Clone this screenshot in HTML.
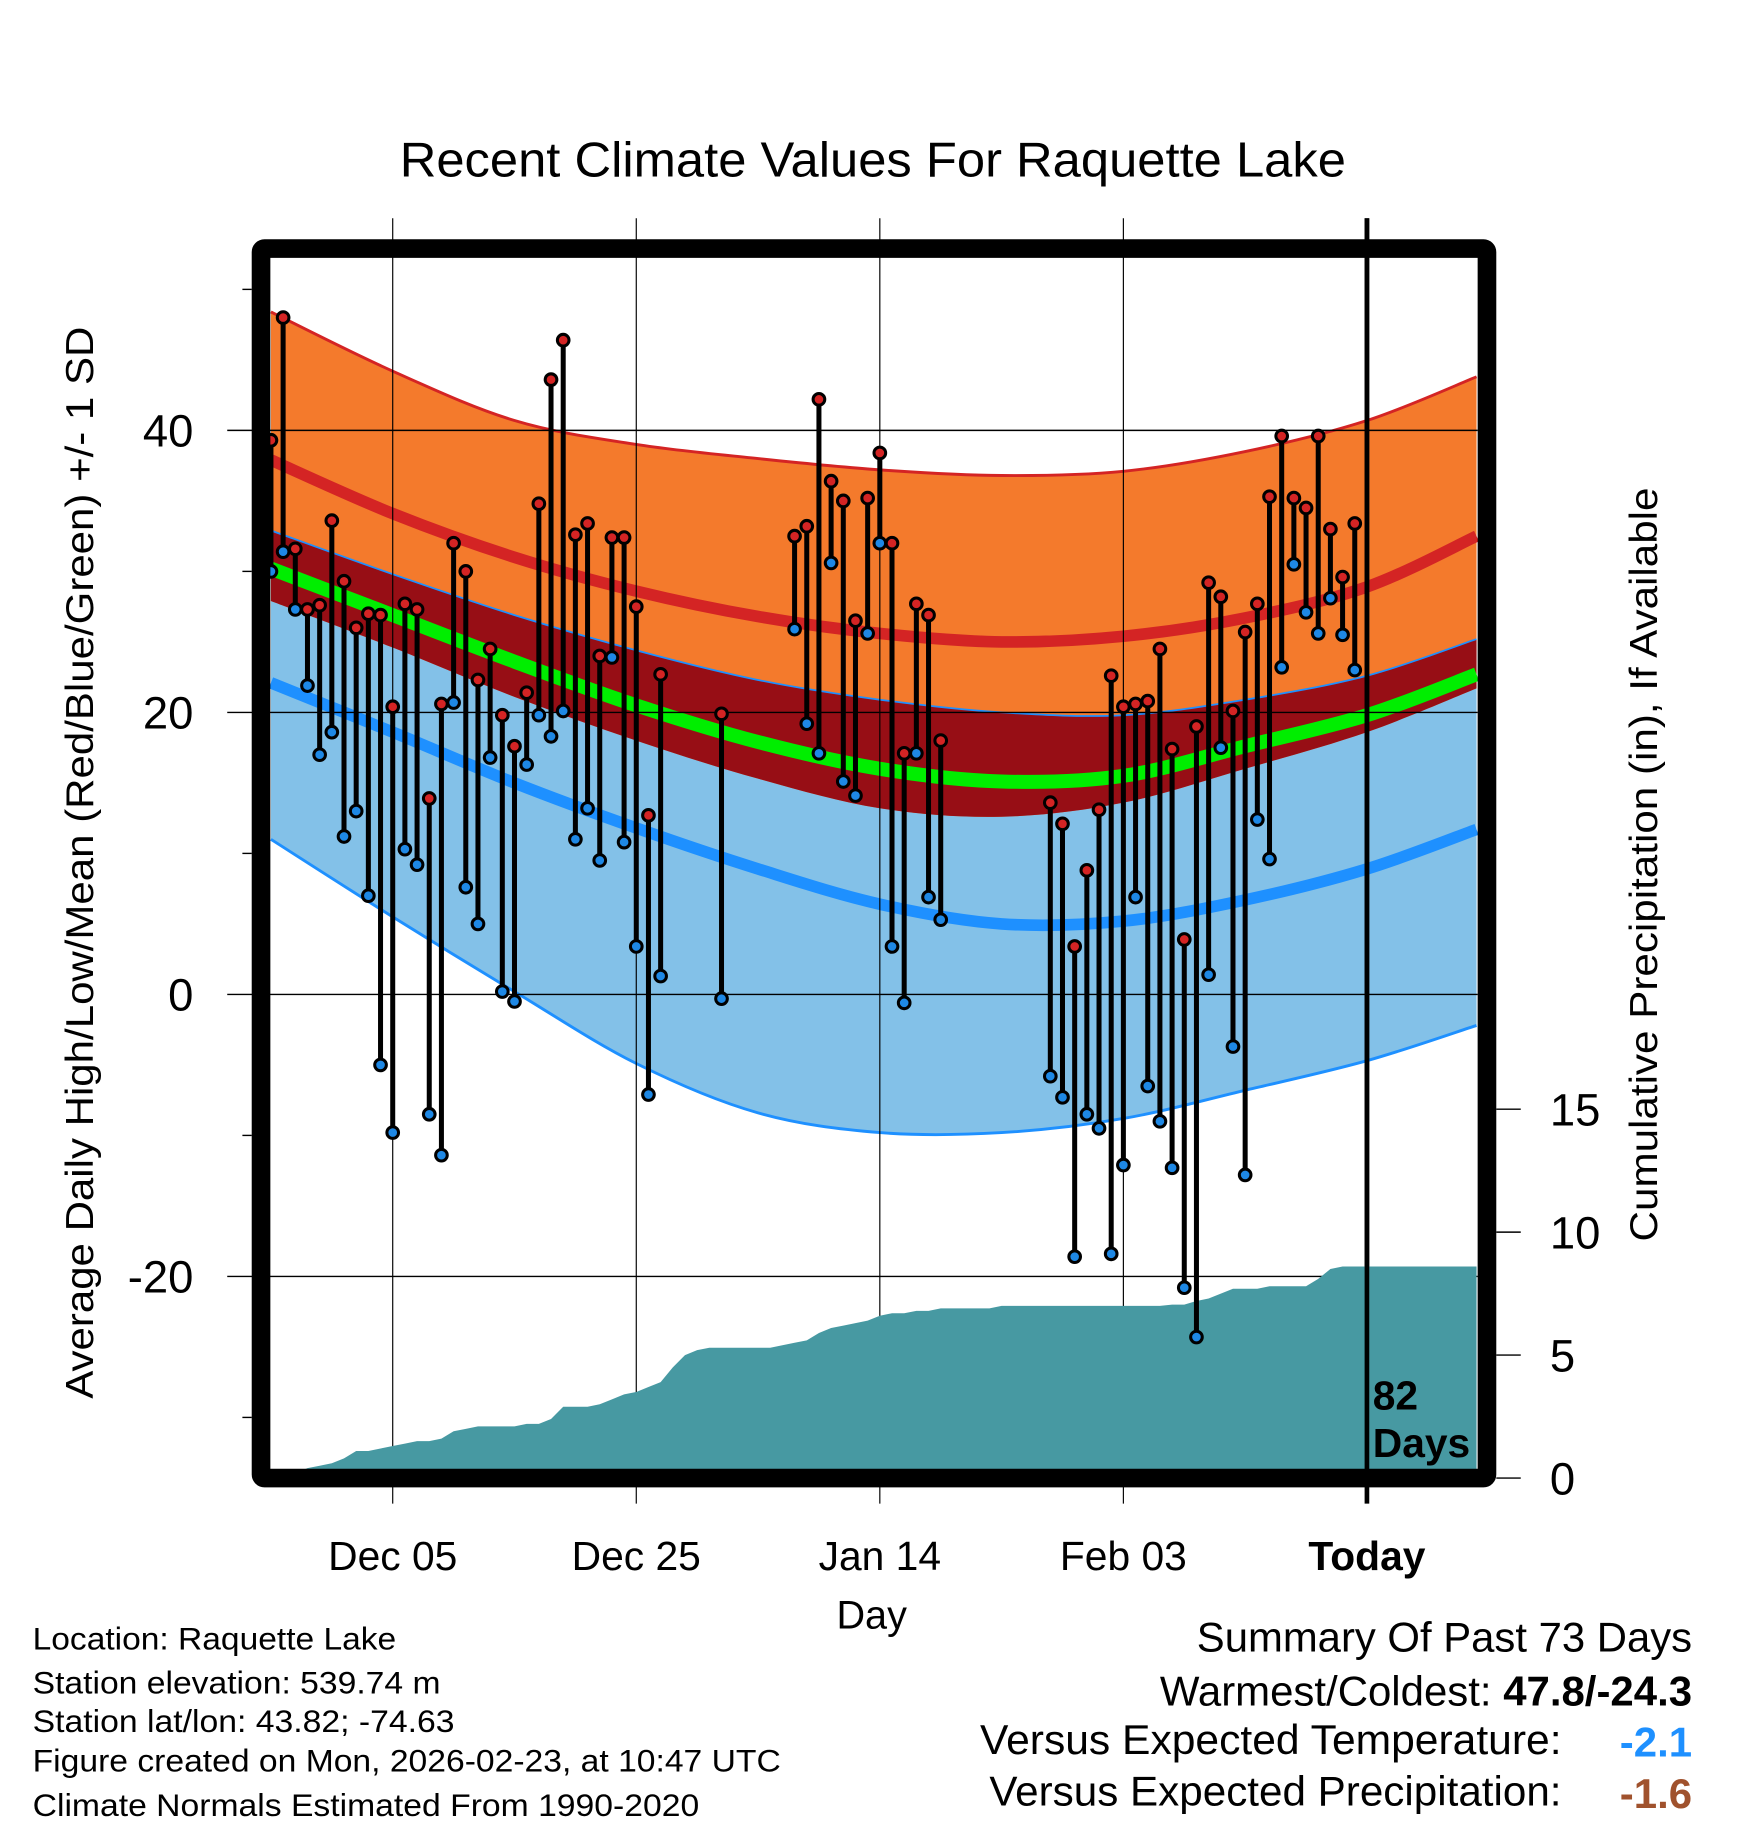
<!DOCTYPE html>
<html><head><meta charset="utf-8"><style>
html,body{margin:0;padding:0;background:#fff}
svg{display:block;font-family:"Liberation Sans",Arial,sans-serif}
</style></head><body>
<svg id="chart" width="1748" height="1828" viewBox="0 0 1500 1568" xmlns="http://www.w3.org/2000/svg">
<rect x="0" y="0" width="1500" height="1568" fill="#fff"/>
<text x="343" y="151" font-size="42" textLength="812" lengthAdjust="spacingAndGlyphs">Recent Climate Values For Raquette Lake</text>
<g id="bands"></g>
<g id="grid"></g>
<g id="precip"></g>
<g id="marks"></g>
<g id="frame"></g>
<g id="axes"></g>
<text transform="translate(80,1200) rotate(-90)" font-size="33" textLength="920" lengthAdjust="spacingAndGlyphs">Average Daily High/Low/Mean (Red/Blue/Green) +/- 1 SD</text>
<text transform="translate(1422,1065) rotate(-90)" font-size="33" textLength="647" lengthAdjust="spacingAndGlyphs">Cumulative Precipitation (in), If Available</text>
<text x="748" y="1397" font-size="34" text-anchor="middle">Day</text>
<g font-size="27">
<text x="28" y="1415" textLength="312" lengthAdjust="spacingAndGlyphs">Location: Raquette Lake</text>
<text x="28" y="1453" textLength="350" lengthAdjust="spacingAndGlyphs">Station elevation: 539.74 m</text>
<text x="28" y="1486" textLength="362" lengthAdjust="spacingAndGlyphs">Station lat/lon: 43.82; -74.63</text>
<text x="28" y="1520" textLength="642" lengthAdjust="spacingAndGlyphs">Figure created on Mon, 2026-02-23, at 10:47 UTC</text>
<text x="28" y="1558" textLength="572" lengthAdjust="spacingAndGlyphs">Climate Normals Estimated From 1990-2020</text>
</g>
<g font-size="36">
<text x="1027" y="1417" textLength="425" lengthAdjust="spacingAndGlyphs">Summary Of Past 73 Days</text>
<text x="1452" y="1463" text-anchor="end">Warmest/Coldest: <tspan font-weight="bold">47.8/-24.3</tspan></text>
<text x="841" y="1505" textLength="499" lengthAdjust="spacingAndGlyphs">Versus Expected Temperature:</text>
<text x="1452" y="1507" text-anchor="end" font-weight="bold" fill="#1e90ff">-2.1</text>
<text x="849" y="1549" textLength="491" lengthAdjust="spacingAndGlyphs">Versus Expected Precipitation:</text>
<text x="1452" y="1551" text-anchor="end" font-weight="bold" fill="#a0522d">-1.6</text>
</g>
</svg>
<script>
// ---- data ----
const normDays = [0,10,20,30,40,50,60,70,80,90,99];
const highUpper = [48.4,44.2,40.7,39.0,38.0,37.2,36.8,37.1,38.5,40.7,43.8];
const highMean  = [37.9,34.1,31.0,28.6,26.8,25.6,25.0,25.4,26.7,28.9,32.5];
const highLower = [27.9,24.6,21.1,18.0,15.3,13.2,12.6,13.6,16.0,18.6,21.7];
const meanTemp  = [30.2,26.9,23.6,20.5,17.9,16.0,15.1,15.5,17.6,19.8,22.7];
const lowUpper  = [32.9,29.8,26.9,24.4,22.3,20.9,20.0,19.8,20.9,22.6,25.2];
const lowMean   = [22.1,18.6,15.0,11.8,8.9,6.4,5.0,5.2,6.7,8.9,11.7];
const lowLower  = [11.0,5.5,0.2,-4.9,-8.4,-9.8,-9.8,-8.8,-6.8,-4.7,-2.2];
const obsDays = [0,1,2,3,4,5,6,7,8,9,10,11,12,13,14,15,16,17,18,19,20,21,22,23,24,25,26,27,28,29,30,31,32,37,43,44,45,46,47,48,49,50,51,52,53,54,55,64,65,66,67,68,69,70,71,72,73,74,75,76,77,78,79,80,81,82,83,84,85,86,87,88,89];
const highs = [39.3,48,31.6,27.3,27.6,33.6,29.3,26,27,26.9,20.4,27.7,27.3,13.9,20.6,32,30,22.3,24.5,19.8,17.6,21.4,34.8,43.6,46.4,32.6,33.4,24,32.4,32.4,27.5,12.7,22.7,19.9,32.5,33.2,42.2,36.4,35,26.5,35.2,38.4,32,17.1,27.7,26.9,18,13.6,12.1,3.4,8.8,13.1,22.6,20.4,20.6,20.8,24.5,17.4,3.9,19,29.2,28.2,20.1,25.7,27.7,35.3,39.6,35.2,34.5,39.6,33,29.6,33.4];
const lows = [30,31.4,27.3,21.9,17,18.6,11.2,13,7,-5,-9.8,10.3,9.2,-8.5,-11.4,20.7,7.6,5,16.8,0.2,-0.5,16.3,19.8,18.3,20.1,11,13.2,9.5,23.9,10.8,3.4,-7.1,1.3,-0.3,25.9,19.2,17.1,30.6,15.1,14.1,25.6,32,3.4,-0.6,17.1,6.9,5.3,-5.8,-7.3,-18.6,-8.5,-9.5,-18.4,-12.1,6.9,-6.5,-9,-12.3,-20.8,-24.3,1.4,17.5,-3.7,-12.8,12.4,9.6,23.2,30.5,27.1,25.6,28.1,25.5,23];
const precipCum = [0,0.1,0.2,0.4,0.5,0.6,0.8,1.1,1.1,1.2,1.3,1.4,1.5,1.5,1.6,1.9,2.0,2.1,2.1,2.1,2.1,2.2,2.2,2.4,2.9,2.9,2.9,3.0,3.2,3.4,3.5,3.7,3.9,4.5,5.0,5.2,5.3,5.3,5.3,5.3,5.3,5.3,5.4,5.5,5.6,5.9,6.1,6.2,6.3,6.4,6.6,6.7,6.7,6.8,6.8,6.9,6.9,6.9,6.9,6.9,7.0,7.0,7.0,7.0,7.0,7.0,7.0,7.0,7.0,7.0,7.0,7.0,7.0,7.0,7.05,7.05,7.2,7.3,7.5,7.7,7.7,7.7,7.8,7.8,7.8,7.8,8.1,8.5,8.6,8.6,8.6,8.6,8.6,8.6,8.6,8.6,8.6,8.6,8.6,8.6];
const xTickDays = [10,30,50,70,90];
const xTickLabels = ["Dec 05","Dec 25","Jan 14","Feb 03","Today"];
const yTicks = [40,20,0,-20];
const yMinor = [50,30,10,-10,-30];
const pTicks = [0,5,10,15];

// ---- scales ----
const X0=232.5, DX=10.45;
const xs = d => X0 + DX*d;
const ys = v => 853 - 12.1*v;
const yp = v => 1268 - 21.1*v;
const NS='http://www.w3.org/2000/svg';
function mk(tag, attrs, parent){ const e=document.createElementNS(NS,tag); for(const k in attrs) e.setAttribute(k,attrs[k]); parent.appendChild(e); return e; }

function spline(pts, start){
  let s='';
  for(let i=0;i<pts.length-1;i++){
    const p0=pts[Math.max(0,i-1)],p1=pts[i],p2=pts[i+1],p3=pts[Math.min(pts.length-1,i+2)];
    if(i===0) s+=start+p1[0]+','+p1[1];
    const c1=[p1[0]+(p2[0]-p0[0])/6,p1[1]+(p2[1]-p0[1])/6];
    const c2=[p2[0]-(p3[0]-p1[0])/6,p2[1]-(p3[1]-p1[1])/6];
    s+=` C${c1[0]},${c1[1]} ${c2[0]},${c2[1]} ${p2[0]},${p2[1]}`;
  }
  return s;
}
function curvePts(vals){ return spline(normDays.map((d,i)=>[xs(d),ys(vals[i])]),'M'); }
function revCurve(vals){
  const pts=normDays.map((d,i)=>[xs(d),ys(vals[i])]).reverse();
  return spline(pts,' L')+' Z';
}
const bands=document.getElementById('bands');
let e;
e=mk('path',{d:curvePts(lowUpper)+revCurve(lowLower),fill:'#83c1e8'},bands);
 
e=mk('path',{d:curvePts(highUpper)+revCurve(highLower),fill:'#f47a2c'},bands);
 
e=mk('path',{d:curvePts(lowUpper)+revCurve(highLower),fill:'#970e15'},bands);
 
e=mk('path',{d:curvePts(highUpper),fill:'none',stroke:'#d42424','stroke-width':2.5},bands);
 
e=mk('path',{d:curvePts(lowUpper),fill:'none',stroke:'#1e90ff','stroke-width':1.5},bands);
 
e=mk('path',{d:curvePts(lowLower),fill:'none',stroke:'#1e90ff','stroke-width':2.5},bands);
 
e=mk('path',{d:curvePts(highMean),fill:'none',stroke:'#d42424','stroke-width':10},bands);
 
e=mk('path',{d:curvePts(lowMean),fill:'none',stroke:'#1e90ff','stroke-width':10},bands);
 
e=mk('path',{d:curvePts(meanTemp),fill:'none',stroke:'#00ee00','stroke-width':12},bands);
 

// grid
const grid=document.getElementById('grid');
xTickDays.forEach(d=>{
  const g=mk('line',{x1:xs(d),x2:xs(d),y1:187,y2:1290,stroke:'#000','stroke-width':d===90?4:1},grid);
   
});
yTicks.forEach(v=>{
  const g=mk('line',{x1:195,x2:1268,y1:ys(v),y2:ys(v),stroke:'#000','stroke-width':1.2},grid);
   
});

// precip
let pd='M'+xs(0)+','+yp(0);
precipCum.forEach((v,i)=>{ pd+=' L'+xs(i)+','+yp(v); });
pd+=' L'+xs(99)+','+yp(0)+' Z';
e=mk('path',{d:pd,fill:'#4799a2'},document.getElementById('precip'));
 
e=mk('line',{x1:xs(90),x2:xs(90),y1:187,y2:1268,stroke:'#000','stroke-width':4},document.getElementById('precip'));
 

// marks
const marks=document.getElementById('marks');
obsDays.forEach((d,i)=>{
  const x=xs(d);
  const s=mk('line',{x1:x,x2:x,y1:ys(highs[i]),y2:ys(lows[i]),stroke:'#000','stroke-width':4.3},marks);
   
});
obsDays.forEach((d,i)=>{
  const x=xs(d);
  const lo=mk('circle',{cx:x,cy:ys(lows[i]),r:5,fill:'#1e88e5',stroke:'#000','stroke-width':2.6},marks);
   
  const hi=mk('circle',{cx:x,cy:ys(highs[i]),r:5,fill:'#d42424',stroke:'#000','stroke-width':2.6},marks);
   
});

// frame & axes
const frame=document.getElementById('frame');
e=mk('rect',{x:224,y:213,width:1052,height:1055,fill:'none',stroke:'#000','stroke-width':16,rx:3},frame);
 
e=mk('text',{x:1178,y:1209,'font-size':35,'font-weight':'bold'},frame); e.textContent='82';
 
e=mk('text',{x:1178,y:1250,'font-size':35,'font-weight':'bold'},frame); e.textContent='Days';
 

const axes=document.getElementById('axes');
yTicks.forEach(v=>{
  const t=mk('text',{x:166,y:ys(v)+14,'font-size':39,'text-anchor':'end'},axes); t.textContent=String(v);
   
});
yMinor.forEach(v=>{
  const t=mk('line',{x1:208,x2:216,y1:ys(v),y2:ys(v),stroke:'#000','stroke-width':1.2},axes);
   
});
pTicks.forEach(v=>{
  const l=mk('line',{x1:1284,x2:1305,y1:yp(v),y2:yp(v),stroke:'#000','stroke-width':1.2},axes);
   
  const t=mk('text',{x:1330,y:yp(v)+14,'font-size':39},axes); t.textContent=String(v);
   
});
xTickDays.forEach((d,i)=>{
  const t=mk('text',{x:xs(d),y:1347,'font-size':35,'text-anchor':'middle','font-weight':i===4?'bold':'normal'},axes);
  t.textContent=xTickLabels[i];
   
});
</script>
</body></html>
